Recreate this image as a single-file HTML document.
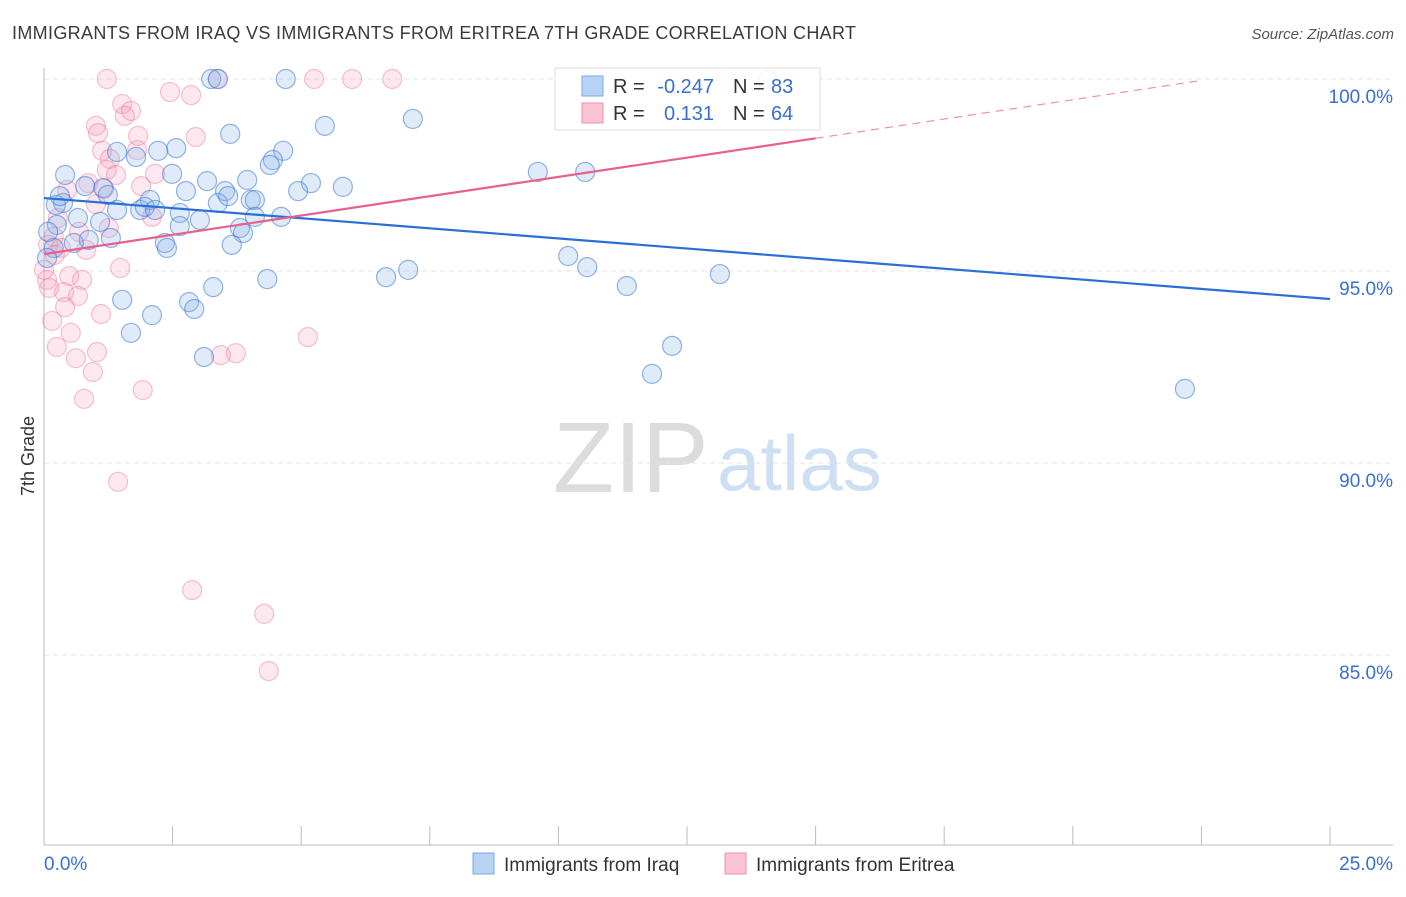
<!DOCTYPE html>
<html><head><meta charset="utf-8"><style>
body{margin:0;background:#fff;font-family:"Liberation Sans",sans-serif}
svg text{font-family:"Liberation Sans",sans-serif}
</style></head><body>
<svg id="chart" width="1406" height="892" viewBox="0 0 1406 892" xmlns="http://www.w3.org/2000/svg">
<text x="12" y="39" font-size="18" fill="#3a3a3a" textLength="844" lengthAdjust="spacing">IMMIGRANTS FROM IRAQ VS IMMIGRANTS FROM ERITREA 7TH GRADE CORRELATION CHART</text>
<text x="1394" y="39" font-size="15" fill="#555" text-anchor="end" font-style="italic">Source: ZipAtlas.com</text>
<g>
<text x="553" y="492" font-size="100" fill="#dcdcdc" font-family="Liberation Serif,serif">ZIP</text>
<text x="717" y="490" font-size="78" fill="#cfdff3">atlas</text>
</g>
<g id="grid"></g>
<g id="axes"></g>
<g id="pts"></g>
<g id="trends"></g>
<text transform="translate(34,456) rotate(-90)" font-size="18" fill="#333" text-anchor="middle">7th Grade</text>
<g>
<rect x="555" y="68" width="265" height="62" fill="#fff" fill-opacity="0.9" stroke="#ddd"/>
<rect x="582" y="76" width="21" height="20" fill="#b9d3f5" stroke="#7aa7e6"/>
<rect x="582" y="103" width="21" height="20" fill="#f9c3d3" stroke="#f08fae"/>
<text x="613" y="93" font-size="20" fill="#333">R =</text>
<text x="714" y="93" font-size="20" fill="#3a6fd0" text-anchor="end">-0.247</text>
<text x="733" y="93" font-size="20" fill="#333">N =</text>
<text x="771" y="93" font-size="20" fill="#3a6fd0">83</text>
<text x="613" y="120" font-size="20" fill="#333">R =</text>
<text x="714" y="120" font-size="20" fill="#3a6fd0" text-anchor="end">0.131</text>
<text x="733" y="120" font-size="20" fill="#333">N =</text>
<text x="771" y="120" font-size="20" fill="#3a6fd0">64</text>
</g>
<g>
<rect x="473" y="853" width="21" height="21" fill="#b9d3f5" stroke="#7aa7e6"/>
<text x="504" y="871" font-size="19" fill="#333">Immigrants from Iraq</text>
<rect x="725" y="853" width="21" height="21" fill="#f9c3d3" stroke="#f08fae"/>
<text x="756" y="871" font-size="19" fill="#333">Immigrants from Eritrea</text>
</g>
</svg>
<script>
const xTicks=[0,2.5,5,7.5,10,12.5,15,17.5,20,22.5,25];
const yTicks=[100,95,90,85];
const yTickLabels=["100.0%","95.0%","90.0%","85.0%"];
const iraqX=[3.25,3.38,4.70,14.08,3.62,5.46,7.17,2.57,2.22,1.42,1.79,4.65,4.45,4.39,9.60,10.52,0.41,2.49,3.95,3.17,5.19,5.81,4.94,2.76,3.52,0.80,1.15,1.24,2.06,0.37,3.38,4.02,4.10,3.58,1.42,1.87,1.96,2.16,2.64,3.03,2.64,4.10,4.61,0.66,1.09,0.25,3.81,3.87,1.30,0.87,0.58,2.35,2.39,3.65,0.19,0.06,10.19,10.56,7.08,6.65,4.34,13.14,11.33,3.29,1.52,2.82,2.92,2.10,1.69,3.11,12.21,11.82,22.18,0.23,0.31,0.08];
const iraqY=[100,100,100,100,98.57,98.78,98.96,98.20,98.13,98.10,97.97,98.13,97.89,97.76,97.58,97.58,97.50,97.53,97.37,97.34,97.29,97.19,97.08,97.08,97.08,97.21,97.16,96.98,96.85,96.77,96.77,96.85,96.85,96.95,96.59,96.59,96.67,96.59,96.51,96.33,96.17,96.41,96.41,96.38,96.28,96.20,96.12,95.99,95.86,95.81,95.73,95.73,95.60,95.68,95.60,95.34,95.39,95.10,95.03,94.84,94.79,94.92,94.61,94.58,94.25,94.19,94.01,93.85,93.39,92.76,93.05,92.32,91.93,96.72,96.95,96.02];
const eritreaX=[1.22,3.38,5.25,5.99,6.77,13.28,2.45,2.86,1.52,1.69,1.57,1.01,1.05,1.83,2.95,1.81,1.13,1.28,1.22,2.16,1.40,1.89,0.86,0.45,1.17,1.01,0.27,2.10,1.26,0.68,0.19,0.08,0.33,0.82,0.21,1.48,0.49,0.74,0.10,0.39,0.66,0.41,1.11,0.16,0.52,5.13,0.25,1.03,3.73,3.44,0.62,0.95,1.92,0.78,1.44,2.88,4.28,4.37,0.06,0];
const eritreaY=[100,100,100,100,100,100,99.66,99.58,99.35,99.17,99.04,98.78,98.59,98.52,98.49,98.15,98.13,97.92,97.63,97.53,97.50,97.21,97.29,97.11,97.14,96.74,96.38,96.41,96.12,96.02,95.89,95.68,95.60,95.55,95.42,95.08,94.87,94.77,94.56,94.45,94.35,94.06,93.88,93.70,93.39,93.28,93.02,92.89,92.86,92.81,92.73,92.37,91.90,91.67,89.51,86.69,86.07,84.58,94.77,95.03];
const iraqTrend=[96.90,94.27];
const eritreaTrend=[95.44,0.201];
const NS='http://www.w3.org/2000/svg';
const X=v=>44+v/25*1286;
const Y=v=>79+(100-v)/5*192;
function mk(tag,attrs,parent){const e=document.createElementNS(NS,tag);for(const k in attrs)e.setAttribute(k,attrs[k]);parent.appendChild(e);return e;}
const grid=document.getElementById('grid'),axes=document.getElementById('axes'),pts=document.getElementById('pts'),tr=document.getElementById('trends');
yTicks.forEach((t,i)=>{
 const l=mk('line',{x1:44,x2:1393,y1:Y(t),y2:Y(t),stroke:'#e4e4e4','stroke-dasharray':'5,4'},grid);
 
 
 const tx=mk('text',{x:1393,y:Y(t)+24,'font-size':19,fill:'#3a6fd0','text-anchor':'end'},axes);
 tx.textContent=yTickLabels[i];
 
 
});
const ax=mk('line',{x1:44,x2:44,y1:68,y2:845,stroke:'#bbb'},axes);


const bx=mk('line',{x1:44,x2:1393,y1:845,y2:845,stroke:'#bbb'},axes);


xTicks.forEach(t=>{
 const l=mk('line',{x1:X(t),x2:X(t),y1:826,y2:845,stroke:'#bbb'},axes);
 
 
});
const xl0=mk('text',{x:44,y:870,'font-size':19,fill:'#3a6fd0'},axes);xl0.textContent='0.0%';


const xl1=mk('text',{x:1393,y:870,'font-size':19,fill:'#3a6fd0','text-anchor':'end'},axes);xl1.textContent='25.0%';


eritreaX.forEach((v,i)=>{
 const c=mk('circle',{cx:X(v),cy:Y(eritreaY[i]),r:9.5,fill:'rgba(244,150,180,0.22)',stroke:'rgba(236,120,155,0.45)','stroke-width':1.2},pts);
 
 
});
iraqX.forEach((v,i)=>{
 const c=mk('circle',{cx:X(v),cy:Y(iraqY[i]),r:9.5,fill:'rgba(130,175,235,0.25)',stroke:'rgba(60,120,210,0.55)','stroke-width':1.2},pts);
 
 
});
const bl=mk('line',{x1:X(0),y1:Y(iraqTrend[0]),x2:X(25),y2:Y(iraqTrend[1]),stroke:'#2a6fd6','stroke-width':2.2},tr);


const pe=v=>eritreaTrend[0]+eritreaTrend[1]*v;
const pl=mk('line',{x1:X(0),y1:Y(pe(0)),x2:X(15),y2:Y(pe(15)),stroke:'#e8608e','stroke-width':2.2},tr);


const pd=mk('line',{x1:X(15),y1:Y(pe(15)),x2:X(22.5),y2:Y(pe(22.5)),stroke:'#e8608e','stroke-width':1.2,'stroke-dasharray':'8,6',opacity:0.7},tr);


</script>
</body></html>
